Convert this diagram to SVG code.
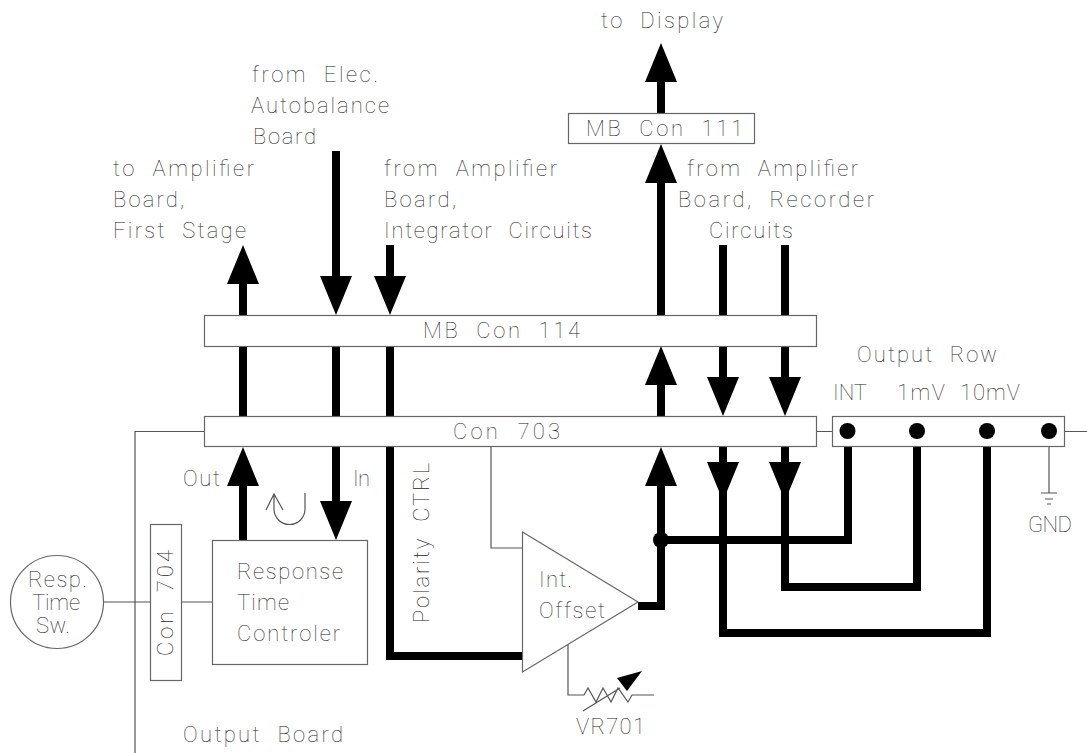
<svg xmlns="http://www.w3.org/2000/svg" width="1087" height="753" viewBox="0 0 1087 753">
<style>
text{font-family:"Roboto","Liberation Sans",sans-serif;font-weight:100;font-size:22px;fill:#222;word-spacing:8px;opacity:.99}
.b{fill:#fff;stroke:#666;stroke-width:1.2}
.t{fill:none;stroke:#555;stroke-width:1.2}
.k{fill:none;stroke:#000;stroke-width:8;stroke-linecap:butt;stroke-linejoin:miter}
</style>
<defs>
<path id="u" d="M-16 39L0 0L16 39Z"/>
<path id="d" d="M-16 -39L0 0L16 -39Z"/>
</defs>
<rect width="1087" height="753" fill="#fff"/>
<g id="connectors">
<path class="t" d="M204 431.500H135V753M103 602H150M181 602H212M491 447V548H522M817 431.500H832M1065 431.500H1087M1049 447V493M1041 493H1057M1045 499H1053M1047 504H1051M568 643V695H584L588 688L596 702L603 688L611 702L618 688L628 702L632 695H654M583 711L620 688M305 493V509A15.500 15.500 0 0 1 274 509V495M266 510L274 494L283 510"/>
<path d="M617 678L642 671L627 691Z"/>
<path class="k" d="M243 284V315M243 346V416M243 486V540M336 151V276M336 346V416M336 447V501M390 245V276M390 346V656H522M661 81V113M661 183V315M661 385V416M661 486V606H638M723 245V315M723 346V377M723 447V633H987V447M785 245V315M785 346V377M785 447V587H917V447M657 540H848V447"/>
<g>
<use href="#u" x="243" y="245"/><use href="#u" x="243" y="447"/>
<use href="#d" x="336" y="315"/><use href="#d" x="336" y="540"/>
<use href="#d" x="390" y="315"/>
<use href="#u" x="661" y="43"/><use href="#u" x="661" y="144"/><use href="#u" x="661" y="346"/><use href="#u" x="661" y="447"/>
<use href="#d" x="723" y="416"/><use href="#d" x="723" y="501"/>
<use href="#d" x="785" y="416"/><use href="#d" x="785" y="501"/>
</g>
<circle cx="661" cy="540" r="8"/>
</g>
<g id="mb-con-114"><rect class="b" x="204.500" y="315.500" width="612" height="31"/><text x="423" y="338" textLength="157">MB Con 114</text></g>
<g id="con-703"><rect class="b" x="204.500" y="416.500" width="612" height="30"/><text x="453" y="439" textLength="107">Con 703</text></g>
<g id="mb-con-111"><rect class="b" x="568.500" y="113.500" width="186" height="30"/><text x="586" y="136" textLength="157">MB Con 111</text></g>
<g id="con-704"><rect class="b" x="150.500" y="524.500" width="31" height="156"/><text transform="translate(173 656) rotate(-90)" textLength="106">Con 704</text></g>
<g id="response-time-controler"><rect class="b" x="212.500" y="540.500" width="155" height="124"/><text x="237" y="579" textLength="106">Response</text><text x="237" y="610" textLength="52">Time</text><text x="237" y="641" textLength="103">Controler</text></g>
<g id="resp-time-sw"><circle class="b" cx="57" cy="602" r="46.500"/><text x="28" y="587" textLength="59">Resp.</text><text x="32" y="610" textLength="48">Time</text><text x="36" y="633" textLength="34">Sw.</text></g>
<g id="int-offset"><path class="b" d="M522.500 532L638 602L522.500 672Z"/><text x="539" y="587" textLength="33">Int.</text><text x="539" y="618" textLength="66">Offset</text></g>
<g id="output-row"><rect class="b" x="832.500" y="416.500" width="232" height="30"/>
<circle cx="847.500" cy="431" r="8"/><circle cx="917" cy="431" r="8"/><circle cx="987" cy="431" r="8"/><circle cx="1049" cy="431" r="8"/>
<text x="857" y="362" textLength="140">Output Row</text><text x="833" y="400" textLength="34">INT</text><text x="897" y="400" textLength="48">1mV</text><text x="960" y="400" textLength="60">10mV</text></g>
<g id="labels">
<text x="601" y="28" textLength="122">to Display</text>
<text x="252" y="82" textLength="126">from Elec.</text>
<text x="251" y="113" textLength="138">Autobalance</text>
<text x="253" y="144" textLength="63">Board</text>
<text x="113" y="176" textLength="141">to Amplifier</text>
<text x="113" y="207" textLength="71">Board,</text>
<text x="113" y="238" textLength="133">First Stage</text>
<text x="384" y="176" textLength="173">from Amplifier</text>
<text x="384" y="207" textLength="72">Board,</text>
<text x="384" y="238" textLength="208">Integrator Circuits</text>
<text x="687" y="176" textLength="171">from Amplifier</text>
<text x="678" y="207" textLength="196">Board, Recorder</text>
<text x="709" y="238" textLength="84">Circuits</text>
<text x="183" y="486" textLength="37">Out</text>
<text x="353" y="486" textLength="17">In</text>
<text transform="translate(429 623) rotate(-90)" textLength="160">Polarity CTRL</text>
<text x="183" y="742" textLength="160">Output Board</text>
<text x="576" y="734" textLength="69">VR701</text>
<text x="1028" y="532" textLength="44">GND</text>
</g>
</svg>
